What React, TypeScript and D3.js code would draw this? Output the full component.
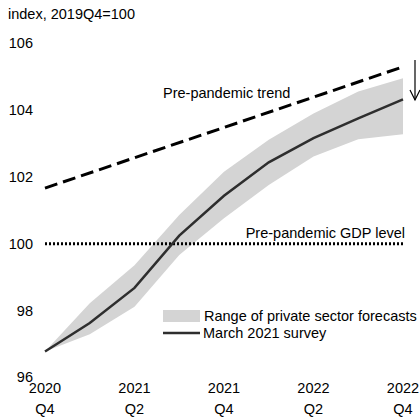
import * as React from "react";
import * as d3 from "d3";

const quarters = ["2020Q4", "2021Q1", "2021Q2", "2021Q3", "2021Q4", "2022Q1", "2022Q2", "2022Q3", "2022Q4"];
const survey = [96.78, 97.63, 98.68, 100.24, 101.43, 102.43, 103.15, 103.74, 104.31];
const rangeHigh = [96.78, 98.22, 99.36, 100.86, 102.15, 103.1, 103.89, 104.54, 104.94];
const rangeLow = [96.78, 97.3, 98.12, 99.66, 100.76, 101.75, 102.6, 103.12, 103.27];
const trendStart = 101.66;
const trendEnd = 105.28;
const yTicks = [96, 98, 100, 102, 104, 106];
const xTickLabels = [["2020", "Q4"], ["2021", "Q2"], ["2021", "Q4"], ["2022", "Q2"], ["2022", "Q4"]];
const xTickQuarters = ["2020Q4", "2021Q2", "2021Q4", "2022Q2", "2022Q4"];

const FONT = "Liberation Sans, Arial, sans-serif";
const FS = 14.5;

export default function App() {
  const x = d3.scalePoint<string>().domain(quarters).range([45, 403]);
  const y = d3.scaleLinear().domain([96, 106]).range([377.7, 42.7]);

  const area = d3.area<number>()
    .x((d, i) => x(quarters[i])!)
    .y0((d, i) => y(rangeLow[i]))
    .y1((d) => y(d));

  const line = d3.line<number>()
    .x((d, i) => x(quarters[i])!)
    .y((d) => y(d));

  const x0 = x(quarters[0])!;
  const x1 = x(quarters[quarters.length - 1])!;

  return (
    <svg width={420} height={420} style={{ position: "absolute", left: 0, top: 0 }} fontFamily={FONT}>
      <rect width={420} height={420} fill="#fff" />
      <text x={8} y={14} fontSize={FS} dominantBaseline="central" fill="#000">index, 2019Q4=100</text>

      {yTicks.map((t) => (
        <text key={t} x={33} y={y(t) - (t === 96 ? 1 : 0)} fontSize={FS} textAnchor="end" dominantBaseline="central" fill="#000">{t}</text>
      ))}

      {xTickQuarters.map((q, i) => (
        <g key={q}>
          <text x={x(q)} y={388} fontSize={FS} textAnchor="middle" dominantBaseline="central">{xTickLabels[i][0]}</text>
          <text x={x(q)} y={409} fontSize={FS} textAnchor="middle" dominantBaseline="central">{xTickLabels[i][1]}</text>
        </g>
      ))}

      <path d={area(rangeHigh)!} fill="#d4d4d4" />

      <line x1={x0} x2={x1} y1={y(100)} y2={y(100)} stroke="#000" strokeWidth={3} strokeDasharray="2,2" />
      <line x1={x0} x2={x1} y1={y(trendStart)} y2={y(trendEnd)} stroke="#000" strokeWidth={3} strokeDasharray="13,6" />

      <path d={line(survey)!} fill="none" stroke="#2e2e2e" strokeWidth={2.5} />

      <text x={163} y={93} fontSize={FS} dominantBaseline="central">Pre-pandemic trend</text>
      <text x={405} y={233} fontSize={FS} textAnchor="end" dominantBaseline="central">Pre-pandemic GDP level</text>

      <line x1={415} x2={415} y1={60} y2={100} stroke="#000" strokeWidth={1.2} />
      <polyline points="410,90 415,100 420,90" fill="none" stroke="#000" strokeWidth={1.2} />

      <rect x={163} y={310} width={37} height={12} fill="#d4d4d4" />
      <text x={204} y={316} fontSize={FS} dominantBaseline="central">Range of private sector forecasts</text>
      <line x1={163} x2={200} y1={333} y2={333} stroke="#2e2e2e" strokeWidth={2.5} />
      <text x={203} y={333} fontSize={FS} dominantBaseline="central">March 2021 survey</text>
    </svg>
  );
}
